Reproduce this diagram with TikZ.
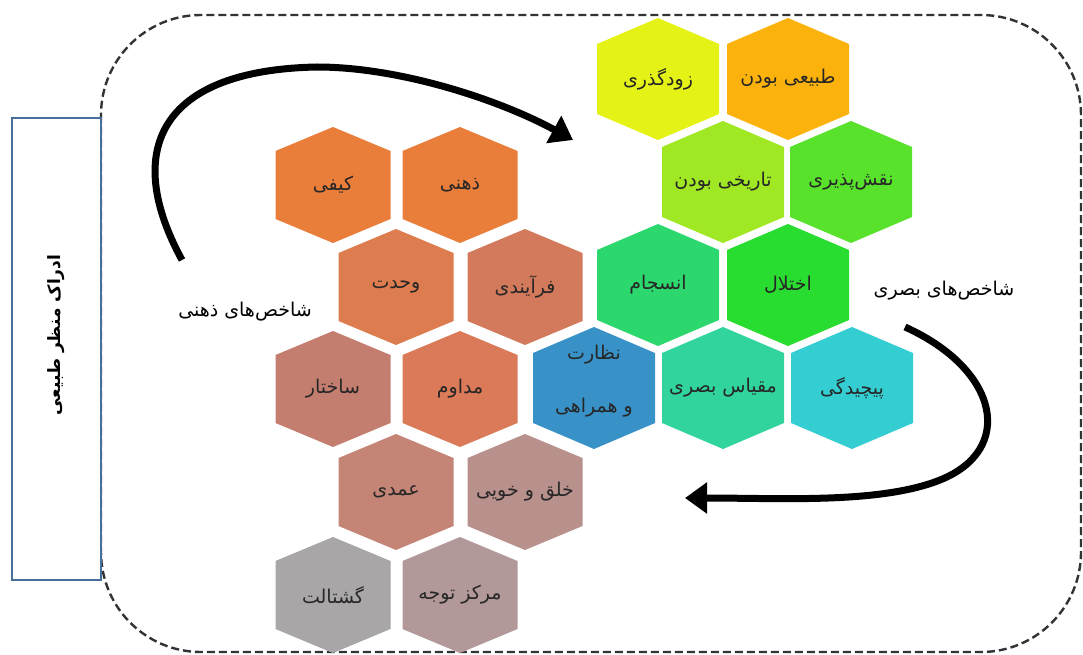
\documentclass[tikz,border=0pt]{standalone}
\usepackage{fontspec}
\usetikzlibrary{arrows.meta}
\newfontfamily\arabicfont[Script=Arabic]{DejaVu Sans}
\TeXXeTstate=1
\definecolor{hkayfi}{RGB}{233,125,58}
\definecolor{hvahdat}{RGB}{221,124,78}
\definecolor{hfarayand}{RGB}{212,122,92}
\definecolor{hsakhtar}{RGB}{196,126,112}
\definecolor{hmodavem}{RGB}{218,122,88}
\definecolor{hamdi}{RGB}{196,132,118}
\definecolor{hkholgh}{RGB}{184,144,140}
\definecolor{hgestalt}{RGB}{168,166,166}
\definecolor{hmarkaz}{RGB}{178,152,152}
\definecolor{hzood}{RGB}{228,242,22}
\definecolor{htabiei}{RGB}{252,178,12}
\definecolor{htarikhi}{RGB}{160,232,36}
\definecolor{hnaghsh}{RGB}{88,226,44}
\definecolor{hensejam}{RGB}{44,216,110}
\definecolor{hekhtelal}{RGB}{40,220,48}
\definecolor{hnezarat}{RGB}{56,146,200}
\definecolor{hmeghyas}{RGB}{48,212,156}
\definecolor{hpichidegi}{RGB}{52,206,210}
\definecolor{frameblue}{RGB}{72,110,158}
\begin{document}
\begin{tikzpicture}[x=1pt,y=-1pt,
  hexlabel/.style={font=\arabicfont\fontsize{19}{23}\selectfont,text=black!85,align=center},
  sidelabel/.style={font=\arabicfont\bfseries\fontsize{17}{20}\selectfont,rotate=90},
  grouplabel/.style={font=\arabicfont\fontsize{19}{23}\selectfont},
  loop arrow/.style={line width=7pt,-{Triangle[length=22pt,width=30pt]}}]
 \useasboundingbox (0,0) rectangle (1083,655);
 % outer dashed frame and side box
 \draw[black!80,line width=2.4pt,dash pattern=on 8pt off 4pt,rounded corners=100pt] (101,15) rectangle (1081,652);
 \draw[frameblue,line width=1.2pt,fill=white] (12,118) rectangle (101,580);
 \node[sidelabel] (edrak) at (56,335) {\beginR ادراک منظر طبیعی\endR};
 % mental indicators
 \foreach \cx/\cy/\col/\nm/\txt in {333/185/hkayfi/kayfi/{کیفی},460/185/hkayfi/zehni/{ذهنی},
    396/287/hvahdat/vahdat/{وحدت},525/287/hfarayand/farayandi/{فرآیندی},
    333/389/hsakhtar/sakhtar/{ساختار},460/389/hmodavem/modavem/{مداوم},
    396/492/hamdi/amdi/{عمدی},525/492/hkholgh/kholgh/{خلق و خویی},
    333/595/hgestalt/gestalt/{گشتالت},460/595/hmarkaz/markaz/{مرکز توجه}}{
   \fill[\col] (\cx,\cy) ++(0,-58) -- ++(57.5,24) -- ++(0,68) -- ++(-57.5,24) -- ++(-57.5,-24) -- ++(0,-68) -- cycle;
   \node[hexlabel] (\nm) at (\cx,\cy) {\beginR\txt\endR};
 }
 % visual indicators
 \foreach \cx/\cy/\col/\nm/\txt in {658/79/hzood/zoodgozar/{زودگذری},788/79/htabiei/tabiei/{طبیعی بودن},
    723/182/htarikhi/tarikhi/{تاریخی بودن},851/182/hnaghsh/naghsh/{نقش^^^^200cپذیری},
    658/285/hensejam/ensejam/{انسجام},788/285/hekhtelal/ekhtelal/{اختلال},
    723/388/hmeghyas/meghyas/{مقیاس بصری},852/388/hpichidegi/pichidegi/{پیچیدگی}}{
   \fill[\col] (\cx,\cy) ++(0,-61) -- ++(61,26) -- ++(0,70) -- ++(-61,26) -- ++(-61,-26) -- ++(0,-70) -- cycle;
   \node[hexlabel] (\nm) at (\cx,\cy) {\beginR\txt\endR};
 }
 \fill[hnezarat] (594,388) ++(0,-61) -- ++(61,26) -- ++(0,70) -- ++(-61,26) -- ++(-61,-26) -- ++(0,-70) -- cycle;
 \node[hexlabel] (nezarat) at (594,381) {\beginR نظارت\endR\\[30pt]\beginR و همراهی\endR};
 % group labels and arrows
 \node[grouplabel] (zehnigroup) at (245,312) {\beginR شاخص^^^^200cهای ذهنی\endR};
 \node[grouplabel] (basarigroup) at (944,291) {\beginR شاخص^^^^200cهای بصری\endR};
 \coordinate (topstart) at (182,260);
 \coordinate (toptip) at (573,140);
 \coordinate (botstart) at (905,327);
 \coordinate (bottip) at (685,498);
 \draw[loop arrow] (topstart) .. controls (122,150) and (160,70) .. (317,67)
    .. controls (400,67) and (500,100) .. (toptip);
 \draw[loop arrow] (botstart) .. controls (1000,370) and (1015,450) .. (940,480)
    .. controls (880,504) and (780,498) .. (bottip);
\end{tikzpicture}
\end{document}
